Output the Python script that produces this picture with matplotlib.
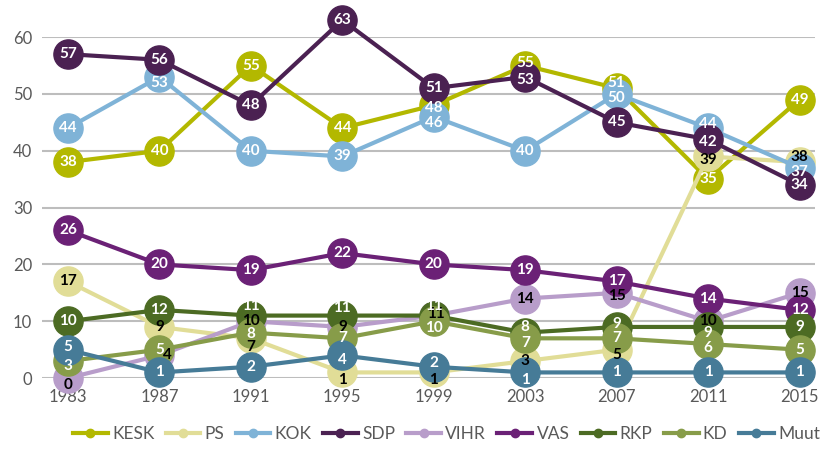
import matplotlib.pyplot as plt

years = [1983, 1987, 1991, 1995, 1999, 2003, 2007, 2011, 2015]

# seats per party
parties = {
    'KESK': [38, 40, 55, 44, 48, 55, 51, 35, 49],
    'PS':   [17, 9, 7, 1, 1, 3, 5, 39, 38],
    'KOK':  [44, 53, 40, 39, 46, 40, 50, 44, 37],
    'SDP':  [57, 56, 48, 63, 51, 53, 45, 42, 34],
    'VIHR': [0, 4, 10, 9, 11, 14, 15, 10, 15],
    'VAS':  [26, 20, 19, 22, 20, 19, 17, 14, 12],
    'RKP':  [10, 12, 11, 11, 11, 8, 9, 9, 9],
    'KD':   [3, 5, 8, 7, 10, 7, 7, 6, 5],
    'Muut': [5, 1, 2, 4, 2, 1, 1, 1, 1],
}
colors = {
    'KESK': '#b3b800', 'PS': '#e1dd97', 'KOK': '#7fb3d7', 'SDP': '#4b2152',
    'VIHR': '#b89dca', 'VAS': '#6b2176', 'RKP': '#4c6b23', 'KD': '#879c49',
    'Muut': '#467b97',
}
dark_text = ['PS', 'VIHR']

# label nudges (party, year) -> (dx years, dy seats), so crowded labels stay readable
nudge = {
    ('KOK', 1987): (0, -1), ('VIHR', 1987): (0.35, 0),
    ('KESK', 1999): (0, -0.5), ('KOK', 1999): (0, -1.2),
    ('KESK', 2003): (0, 0.5), ('SDP', 2003): (0, -0.5),
    ('KESK', 2007): (0, 1), ('KOK', 2007): (0, -0.7),
    ('KOK', 2011): (0, 0.7), ('SDP', 2011): (0, -0.5), ('PS', 2011): (0, -0.7),
    ('PS', 2015): (0, 0.9), ('KOK', 2015): (0, -0.7),
    ('Muut', 1983): (0, 0.5), ('KD', 1983): (0, -0.9), ('VIHR', 1983): (0, -1.2),
    ('RKP', 1991): (0, 1.7), ('KD', 1991): (0, -0.3), ('PS', 1991): (0, -1.5),
    ('RKP', 1995): (0, 1.4), ('Muut', 1995): (0, -0.8), ('PS', 1995): (0, -1.4),
    ('RKP', 1999): (0, 1.6), ('VIHR', 1999): (0.1, 0.3), ('KD', 1999): (0, -1.2),
    ('Muut', 1999): (0, 0.7), ('PS', 1999): (0, -1.4),
    ('RKP', 2003): (0, 1), ('KD', 2003): (0, -0.8), ('Muut', 2003): (0, -1.4),
    ('VIHR', 2007): (0, -0.5), ('RKP', 2007): (0, 0.5), ('PS', 2007): (0, -0.9),
    ('RKP', 2011): (0, -1), ('KD', 2011): (0, -0.7),
}

fig = plt.figure(figsize=(8.22, 4.55), dpi=100)
ax = fig.add_axes([0.051, 0.169, 0.94, 0.7495])

handles = []
for i, (name, vals) in enumerate(parties.items()):
    c = colors[name]
    ax.plot(years, vals, color=c, lw=3, marker='o', markersize=21,
            zorder=3 + i, clip_on=False)
    h, = ax.plot([], [], color=c, lw=3, marker='o', markersize=6)
    handles.append(h)
    tc = 'black' if name in dark_text else 'white'
    for x, y in zip(years, vals):
        dx, dy = nudge.get((name, x), (0, 0))
        ax.text(x + dx, y + dy, str(y), color=tc, fontsize=11, fontweight='bold',
                ha='center', va='center', zorder=30, family='Lato')

ax.set_xlim(1981.86, 2015.66)
ax.set_ylim(0, 60)
ax.set_yticks(range(0, 61, 10))
ax.set_xticks(years)
ax.grid(axis='y', color='#bdbdbd', lw=1.5, zorder=0)
for s in ax.spines.values():
    s.set_visible(False)
ax.tick_params(length=0, labelsize=12, labelcolor='#595959')
ax.tick_params(axis='x', pad=8)
ax.tick_params(axis='y', pad=7)
for lab in ax.get_xticklabels() + ax.get_yticklabels():
    lab.set_family('Lato')

fig.legend(handles, list(parties.keys()), loc='lower center', ncol=9,
           bbox_to_anchor=(0.543, -0.005), frameon=False, handlelength=2.0,
           columnspacing=0.65, handletextpad=0.25,
           prop={'family': 'Lato', 'size': 12.5})
for t in fig.legends[0].get_texts():
    t.set_color('#595959')

plt.savefig('out.png', dpi=100)
